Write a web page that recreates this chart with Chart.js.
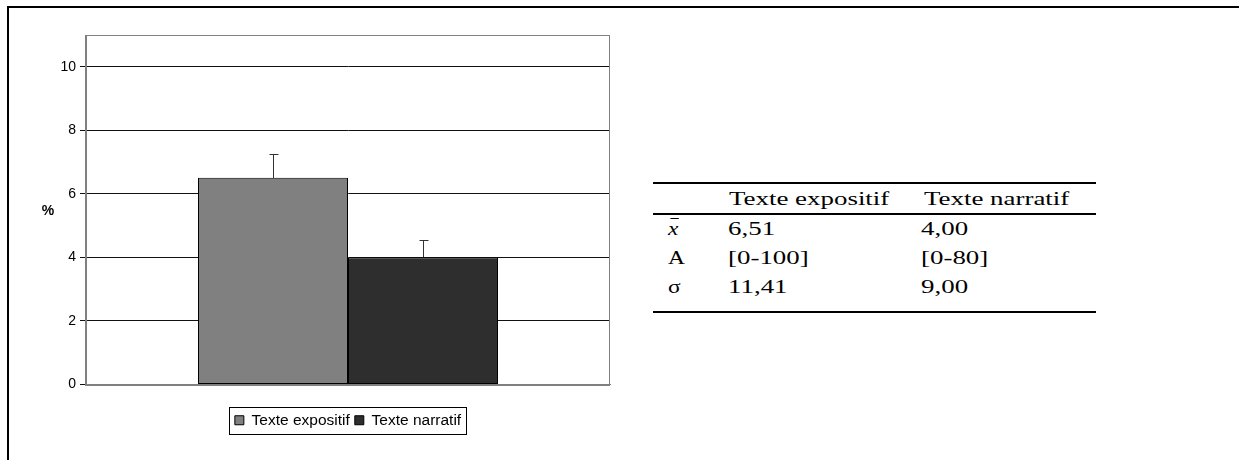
<!DOCTYPE html>
<html>
<head>
<meta charset="utf-8">
<script src="https://cdn.jsdelivr.net/npm/chart.js@4.4.1/dist/chart.umd.min.js"></script>
<style>
  body { margin: 0; background: #fff; width: 1239px; height: 460px; overflow: hidden; position: relative; }
  #frame { position: absolute; left: 7px; top: 6px; width: 1300px; height: 500px; border-top: 2px solid #000; border-left: 2px solid #000; }
  #wrap { position: absolute; left: 0; top: 0; width: 640px; height: 460px; }
  #stats { position: absolute; left: 0; top: 0; font-family: "Liberation Serif", "Times New Roman", serif; font-size: 19.5px; color: #000; }
  #stats .ln { position: absolute; left: 653px; width: 443px; height: 2px; background: #000; }
  #stats .c { position: absolute; line-height: 24px; white-space: nowrap; transform: scaleX(1.38); transform-origin: left center; }
  #stats .sym { transform: scaleX(1.2); }
  .xbar { font-style: italic; position: relative; display: inline-block; }
  .xbar::before { content: ""; position: absolute; left: 2px; right: 0; top: 1px; border-top: 1px solid #000; }
</style>
</head>
<body>
<div id="frame"></div>
<div id="wrap"><canvas id="chart"></canvas></div>
<div id="stats"></div>

<script>
// data
const categories = [""];
const seriesNames = ["Texte expositif", "Texte narratif"];
const means = [6.51, 4.00];
const errors = [0.73, 0.56];
const yTicks = [0, 2, 4, 6, 8, 10];

const tableSymbols = ["x", "A", "σ"];
const colExpositif = ["6,51", "[0-100]", "11,41"];
const colNarratif = ["4,00", "[0-80]", "9,00"];

const barColors = ["#808080", "#2e2e2e"];

// error bars drawn from the y scale
const errorBars = {
  id: "errorBars",
  afterDatasetsDraw(chart) {
    const ctx = chart.ctx;
    const y = chart.scales.y;
    ctx.save();
    ctx.strokeStyle = "#333";
    ctx.lineWidth = 1;
    chart.data.datasets.forEach((ds, i) => {
      const bar = chart.getDatasetMeta(i).data[0];
      const x = Math.round(bar.x) + 0.5;
      const top = Math.round(y.getPixelForValue(ds.data[0] + errors[i])) + 0.5;
      const base = Math.round(y.getPixelForValue(ds.data[0]));
      ctx.beginPath();
      ctx.moveTo(x, base);
      ctx.lineTo(x, top);
      ctx.moveTo(x - 4, top);
      ctx.lineTo(x + 5, top);
      ctx.stroke();
    });
    ctx.restore();
  }
};

// gray plot box, "%" label and legend frame
const decor = {
  id: "decor",
  beforeDatasetsDraw(chart) {
    const { ctx, chartArea: a } = chart;
    ctx.save();
    ctx.strokeStyle = "#808080";
    ctx.lineWidth = 1;
    ctx.strokeRect(Math.round(a.left) - 0.5, Math.round(a.top) + 0.5, Math.round(a.right - a.left), Math.round(a.bottom - a.top));
    ctx.fillStyle = "#000";
    ctx.font = "bold 14px Arial, 'Liberation Sans', sans-serif";
    ctx.textAlign = "center";
    ctx.textBaseline = "middle";
    ctx.fillText("%", a.left - 38, (a.top + a.bottom) / 2 + 1);
    ctx.restore();
  },
  afterDraw(chart) {
    const lg = chart.legend;
    if (!lg || !lg.legendHitBoxes.length) return;
    const hb = lg.legendHitBoxes;
    const l = hb[0].left - 6, r = hb[hb.length - 1].left + hb[hb.length - 1].width + 5;
    const t = hb[0].top - 6, b = hb[0].top + hb[0].height + 5;
    const ctx = chart.ctx;
    ctx.save();
    ctx.strokeStyle = "#000";
    ctx.lineWidth = 1;
    ctx.strokeRect(Math.round(l) + 0.5, Math.round(t) + 0.5, Math.round(r - l), Math.round(b - t));
    ctx.restore();
  }
};

new Chart(document.getElementById("chart"), {
  type: "bar",
  data: {
    labels: categories,
    datasets: seriesNames.map((name, i) => ({
      label: name,
      data: [means[i]],
      backgroundColor: barColors[i],
      borderColor: "#000",
      borderWidth: 1,
      borderSkipped: false,
      barPercentage: 1,
      categoryPercentage: 0.5725
    }))
  },
  options: {
    responsive: true,
    maintainAspectRatio: false,
    animation: false,
    layout: { padding: { left: 0, right: 30, top: 35, bottom: 22 } },
    plugins: {
      tooltip: { enabled: false },
      legend: {
        position: "bottom",
        fullSize: false,
        labels: {
          color: "#000",
          font: { family: "Arial, 'Liberation Sans', sans-serif", size: 15.5 },
          boxWidth: 9,
          boxHeight: 9,
          padding: 5,
          generateLabels(chart) {
            return chart.data.datasets.map((ds, i) => ({
              text: ds.label,
              fillStyle: ds.backgroundColor,
              strokeStyle: "#000",
              lineWidth: 1,
              datasetIndex: i,
              fontColor: "#000"
            }));
          }
        }
      }
    },
    scales: {
      x: {
        ticks: { display: false },
        grid: { display: false },
        border: { color: "#808080" },
        afterFit(scale) { scale.height = 23; }
      },
      y: {
        min: 0,
        max: 11,
        afterBuildTicks(scale) {
          scale.ticks = yTicks.map(v => ({ value: v }));
        },
        afterFit(scale) { scale.width = 86; },
        ticks: {
          color: "#000",
          padding: 4,
          font: { family: "Arial, 'Liberation Sans', sans-serif", size: 14 }
        },
        grid: { color: "#111", tickLength: 6, lineWidth: 1 },
        border: { color: "#808080" }
      }
    }
  },
  plugins: [errorBars, decor]
});

// statistics table beside the chart
const stats = document.getElementById("stats");
[182, 213, 311].forEach(y => {
  const d = document.createElement("div");
  d.className = "ln";
  d.style.top = y + "px";
  stats.appendChild(d);
});
function cell(html, x, cy, cls) {
  const d = document.createElement("div");
  d.className = "c" + (cls ? " " + cls : "");
  d.innerHTML = html;
  d.style.left = x + "px";
  d.style.top = (cy - 12) + "px";
  stats.appendChild(d);
}
cell(seriesNames[0], 729, 199);
cell(seriesNames[1], 924, 199);
const rowY = [229, 258, 287];
tableSymbols.forEach((s, i) => {
  const html = i === 0 ? '<span class="xbar">' + s + '</span>' : s;
  cell(html, 668, rowY[i], "sym");
  cell(colExpositif[i], 728, rowY[i]);
  cell(colNarratif[i], 921, rowY[i]);
});
</script>
</body>
</html>
